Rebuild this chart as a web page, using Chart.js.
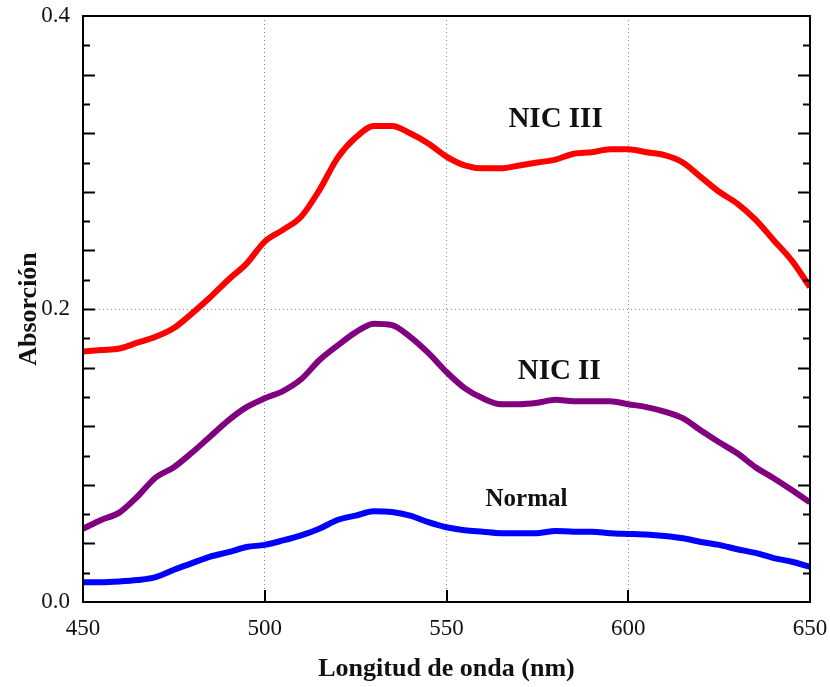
<!DOCTYPE html>
<html>
<head>
<meta charset="utf-8">
<script src="https://cdn.jsdelivr.net/npm/chart.js@4"></script>
<style>
  html, body { margin: 0; padding: 0; background: #fff; }
  #wrap { width: 830px; height: 687px; }
</style>
</head>
<body>
<div id="wrap"><canvas id="spectra"></canvas></div>
<script>
const wavelengths = [450, 455, 460, 465, 470, 475, 480, 485, 490, 495, 500, 505, 510, 515, 520, 525, 530, 535, 540, 545, 550,
    555, 560, 565, 570, 575, 580, 585, 590, 595, 600, 605, 610, 615, 620, 625, 630, 635, 640, 645, 650];

const nic3 = [0.171, 0.172, 0.173, 0.177, 0.181, 0.187, 0.197, 0.208, 0.220, 0.231, 0.246, 0.254, 0.263, 0.281, 0.303, 0.317, 0.325, 0.325, 0.320, 0.313, 0.304,
    0.298, 0.296, 0.296, 0.298, 0.300, 0.302, 0.306, 0.307, 0.309, 0.309, 0.307, 0.305, 0.300, 0.290, 0.280, 0.272, 0.261, 0.247, 0.233, 0.215];

const nic2 = [0.050, 0.056, 0.061, 0.072, 0.085, 0.092, 0.102, 0.113, 0.124, 0.133, 0.139, 0.144, 0.152, 0.165, 0.175, 0.184, 0.190, 0.189, 0.181, 0.170, 0.157,
    0.146, 0.139, 0.135, 0.135, 0.136, 0.138, 0.137, 0.137, 0.137, 0.135, 0.133, 0.130, 0.1255, 0.117, 0.109, 0.1015, 0.092, 0.0845, 0.0765, 0.068];

const normal = [0.0135, 0.0135, 0.014, 0.015, 0.017, 0.022, 0.0265, 0.031, 0.034, 0.0375, 0.039, 0.042, 0.0455, 0.050, 0.056, 0.059, 0.062, 0.0615, 0.059, 0.0545, 0.051,
    0.049, 0.048, 0.047, 0.047, 0.047, 0.0485, 0.048, 0.048, 0.047, 0.0465, 0.046, 0.045, 0.0435, 0.041, 0.039, 0.036, 0.0335, 0.030, 0.0275, 0.024];

const seriesLabels = ['NIC III', 'NIC II', 'Normal'];
// where the curve names sit, in data units
const labelX = [580, 581, 572];
const labelY = [0.329, 0.157, 0.0696];

const serif = '"Liberation Serif", "Times New Roman", serif';

function toPoints(values) {
    return wavelengths.map((w, i) => ({ x: w, y: values[i] }));
}

function dataset(label, values, colour) {
    return {
        label: label,
        data: toPoints(values),
        borderColor: colour,
        backgroundColor: colour,
        borderWidth: 6,
        pointRadius: 0,
        cubicInterpolationMode: 'monotone'
    };
}

// frame, inward ticks and curve names
const decorations = {
    id: 'decorations',
    afterDatasetsDraw(chart) {
        const ctx = chart.ctx;
        const area = chart.chartArea;
        const xs = chart.scales.x;
        const ys = chart.scales.y;

        ctx.save();
        ctx.strokeStyle = '#000';
        ctx.lineWidth = 2;
        ctx.strokeRect(area.left, area.top, area.right - area.left, area.bottom - area.top);

        // y ticks every 0.02 both sides, longer every 0.04
        for (let k = 1; k < 20; k++) {
            const py = Math.round(ys.getPixelForValue(k * 0.02)) + 0.5;
            const len = k % 2 === 0 ? 12 : 7;
            ctx.beginPath();
            ctx.moveTo(area.left, py);
            ctx.lineTo(area.left + len, py);
            ctx.moveTo(area.right, py);
            ctx.lineTo(area.right - len, py);
            ctx.stroke();
        }
        // x ticks at 500, 550, 600
        for (let w = 500; w < 650; w += 50) {
            const px = Math.round(xs.getPixelForValue(w));
            ctx.beginPath();
            ctx.moveTo(px, area.bottom);
            ctx.lineTo(px, area.bottom - 12);
            ctx.stroke();
        }

        ctx.fillStyle = '#111';
        ctx.textAlign = 'center';
        ctx.textBaseline = 'middle';
        seriesLabels.forEach((t, i) => {
            ctx.font = 'bold ' + (i === 2 ? 25 : 29) + 'px ' + serif;
            ctx.fillText(t, xs.getPixelForValue(labelX[i]), ys.getPixelForValue(labelY[i]));
        });
        ctx.restore();
    }
};

const chart = new Chart(document.getElementById('spectra'), {
    type: 'line',
    data: {
        datasets: [
            dataset('NIC III', nic3, '#ff0000'),
            dataset('NIC II', nic2, '#800080'),
            dataset('Normal', normal, '#0000ff')
        ]
    },
    options: {
        responsive: true,
        maintainAspectRatio: false,
        animation: false,
        layout: { padding: { top: 16, right: 20, left: 0, bottom: 0 } },
        plugins: {
            legend: { display: false },
            tooltip: { enabled: false }
        },
        scales: {
            x: {
                type: 'linear',
                min: 450,
                max: 650,
                border: { display: false, dash: [1, 3] },
                grid: {
                    drawTicks: false,
                    color: c => (c.tick.value === 450 || c.tick.value === 650) ? 'rgba(0,0,0,0)' : '#8a8a8a'
                },
                ticks: {
                    stepSize: 50,
                    padding: 13,
                    color: '#111',
                    font: { family: serif, size: 23 }
                },
                title: {
                    display: true,
                    text: 'Longitud de onda (nm)',
                    color: '#111',
                    font: { family: serif, size: 26, weight: 'bold' },
                    padding: { bottom: 2 }
                },
                afterFit: s => {
                    s.height = 85;
                    s.paddingLeft = 0;
                    s.paddingRight = 0;
                }
            },
            y: {
                min: 0,
                max: 0.4,
                border: { display: false, dash: [1, 3] },
                grid: {
                    drawTicks: false,
                    color: c => (c.tick.value === 0.2) ? '#8a8a8a' : 'rgba(0,0,0,0)'
                },
                ticks: {
                    stepSize: 0.2,
                    padding: 13,
                    color: '#111',
                    font: { family: serif, size: 23 },
                    callback: v => v.toFixed(1)
                },
                title: {
                    display: true,
                    text: 'Absorción',
                    color: '#111',
                    font: { family: serif, size: 26, weight: 'bold' },
                    padding: { top: 14 }
                },
                afterFit: s => {
                    s.width = 83;
                    s.paddingTop = 0;
                    s.paddingBottom = 0;
                }
            }
        }
    },
    plugins: [decorations]
});
</script>
</body>
</html>
